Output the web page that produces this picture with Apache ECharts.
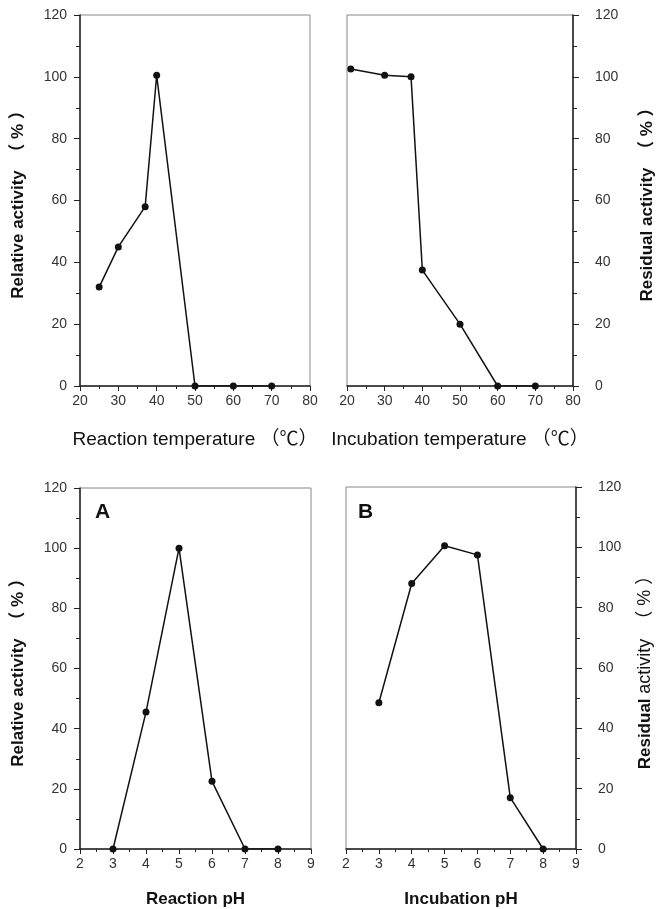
<!DOCTYPE html>
<html>
<head>
<meta charset="utf-8">
<title>Activity profiles</title>
<script src="https://cdn.jsdelivr.net/npm/echarts@6/dist/echarts.min.js"></script>
<style>
  html, body { margin: 0; padding: 0; background: #fff; }
  #main { width: 657px; height: 909px; }
</style>
</head>
<body>
<div id="main"></div>
<script type="text/javascript">
    // values
    var reactTempX = [25, 30, 37, 40, 50, 60, 70];
    var reactTempY = [32, 45, 58, 100.5, 0, 0, 0];
    var incubTempX = [21, 30, 37, 40, 50, 60, 70];
    var incubTempY = [102.5, 100.5, 100, 37.5, 20, 0, 0];
    var reactPhX = [3, 4, 5, 6, 7, 8];
    var reactPhY = [0, 45.5, 100, 22.5, 0, 0];
    var incubPhX = [3, 4, 5, 6, 7, 8];
    var incubPhY = [48.5, 88, 100.5, 97.5, 17, 0];

    var font = '"Liberation Sans", Arial, "Noto Sans CJK JP", sans-serif';
    var myChart = echarts.init(document.getElementById('main'));

    function pairs(xs, ys) {
        var out = [];
        for (var i = 0; i < xs.length; i++) out.push([xs[i], ys[i]]);
        return out;
    }

    function xAx(idx, min, max, name, bold) {
        return {
            gridIndex: idx, type: 'value', min: min, max: max,
            interval: max > 20 ? 10 : 1,
            name: name, nameLocation: 'middle',
            nameGap: bold ? 42 : 44,
            nameTextStyle: {
                fontFamily: font, color: '#111',
                fontSize: bold ? 17 : 19,
                fontWeight: bold ? 'bold' : 'normal'
            },
            axisLine: { show: true, lineStyle: { color: '#222', width: 1.5 } },
            axisTick: { show: true, length: 5, lineStyle: { color: '#222' } },
            minorTick: { show: true, splitNumber: 2, length: 3, lineStyle: { color: '#222' } },
            axisLabel: { fontFamily: font, fontSize: 14, color: '#333', margin: 8 },
            splitLine: { show: false }
        };
    }

    function yAx(idx, right, gap, name) {
        return {
            gridIndex: idx, type: 'value', min: 0, max: 120, interval: 20,
            position: right ? 'right' : 'left',
            name: name, nameLocation: 'middle',
            nameGap: gap,
            nameRotate: 90,
            nameTextStyle: {
                fontFamily: font, color: '#111', fontSize: 17, fontWeight: 'bold',
                rich: {
                    b: { fontFamily: font, color: '#111', fontSize: 17, fontWeight: 'bold' },
                    n: { fontFamily: font, color: '#111', fontSize: 18, fontWeight: 'normal' }
                }
            },
            axisLine: { show: true, lineStyle: { color: '#222', width: 1.5 } },
            axisTick: { show: true, length: 6, lineStyle: { color: '#222' } },
            minorTick: { show: true, splitNumber: 2, length: 4, lineStyle: { color: '#222' } },
            axisLabel: {
                fontFamily: font, fontSize: 14, color: '#333',
                margin: right ? 22 : 13
            },
            splitLine: { show: false }
        };
    }

    function line(idx, data) {
        return {
            type: 'line', xAxisIndex: idx, yAxisIndex: idx,
            data: data, symbol: 'circle', symbolSize: 7,
            lineStyle: { color: '#111', width: 1.5 },
            itemStyle: { color: '#111' },
            animation: false
        };
    }

    var gridBox = { show: true, borderColor: '#888', borderWidth: 1 };

    option = {
        backgroundColor: '#fff',
        title: [
            { text: 'A', left: 90, top: 497, textStyle: { fontFamily: font, fontSize: 21, fontWeight: 'bold', color: '#111' } },
            { text: 'B', left: 353, top: 497, textStyle: { fontFamily: font, fontSize: 21, fontWeight: 'bold', color: '#111' } }
        ],
        grid: [
            Object.assign({ left: 80, top: 15, width: 230, height: 371 }, gridBox),
            Object.assign({ left: 347, top: 15, width: 227, height: 371 }, gridBox),
            Object.assign({ left: 80, top: 488, width: 231, height: 368 }, gridBox),
            Object.assign({ left: 346, top: 487, width: 230, height: 369 }, gridBox)
        ],
        xAxis: [
            xAx(0, 20, 80, 'Reaction temperature （℃）', false),
            xAx(1, 20, 80, 'Incubation temperature （℃）', false),
            xAx(2, 2, 9, 'Reaction pH', true),
            xAx(3, 2, 9, 'Incubation pH', true)
        ],
        yAxis: [
            yAx(0, false, 53, 'Relative activity  （ % ）'),
            yAx(1, true, 66, 'Residual activity  （ % ）'),
            yAx(2, false, 53, 'Relative activity  （ % ）'),
            yAx(3, true, 60, '{b|Residual} {n|activity  （ % ）}')
        ],
        series: [
            line(0, pairs(reactTempX, reactTempY)),
            line(1, pairs(incubTempX, incubTempY)),
            line(2, pairs(reactPhX, reactPhY)),
            line(3, pairs(incubPhX, incubPhY))
        ]
    };

    myChart.setOption(option);
</script>
</body>
</html>
